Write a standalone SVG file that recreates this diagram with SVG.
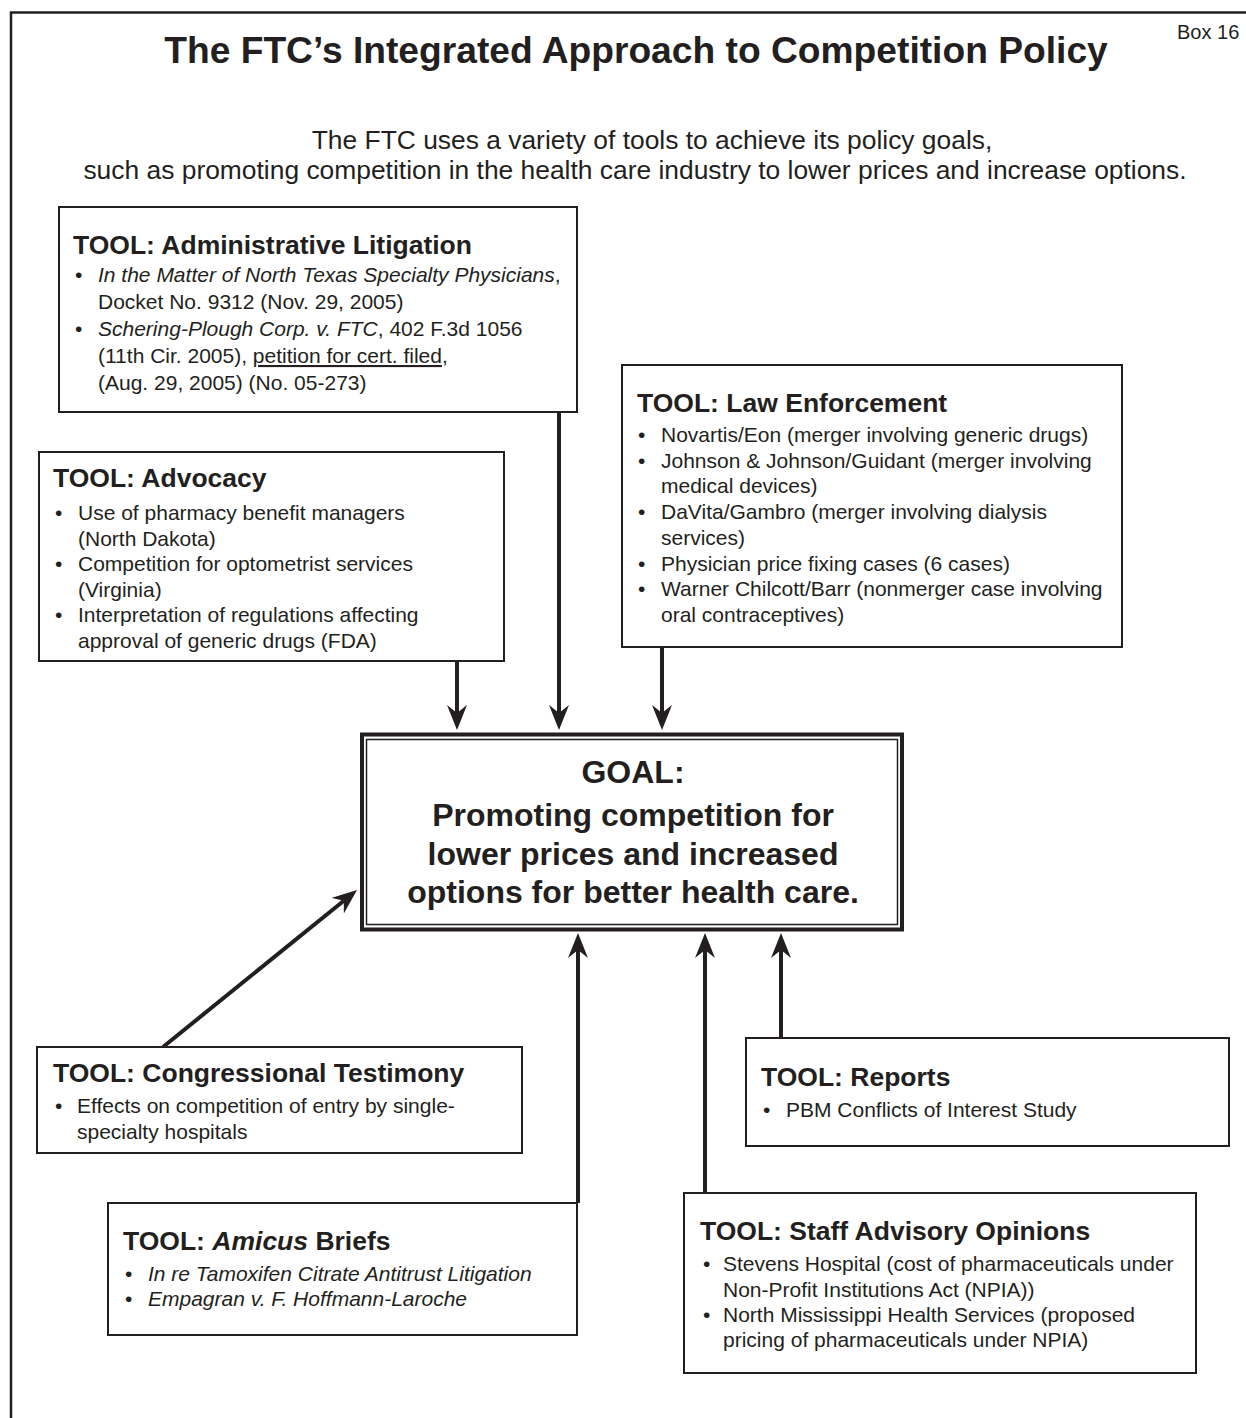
<svg xmlns="http://www.w3.org/2000/svg" width="1246" height="1418" viewBox="0 0 1246 1418">
<defs>
<style>
.t{font-family:"Liberation Sans",Arial,Helvetica,sans-serif;fill:#231f20}
.h{font-weight:bold;font-size:26.5px}
.b{font-size:21px}
.i{font-style:italic}
.box{fill:#fff;stroke:#231f20;stroke-width:2}
.arr{stroke:#231f20;stroke-width:4;fill:none;marker-end:url(#ah)}
</style>
<marker id="ah" viewBox="-25 -10 25 20" markerWidth="25" markerHeight="20" refX="-17" refY="0" orient="auto" markerUnits="userSpaceOnUse">
<path d="M0,0 L-25,-10 L-17,0 L-25,10 Z" fill="#231f20"/>
</marker>
</defs>
<rect width="1246" height="1418" fill="#fff"/>
<path d="M11,1418 V12.5 H1246" fill="none" stroke="#231f20" stroke-width="2.5"/>
<text class="t" x="1177" y="39" font-size="20">Box 16</text>
<text class="t" x="636" y="63" font-size="37.2" font-weight="bold" text-anchor="middle">The FTC’s Integrated Approach to Competition Policy</text>
<text class="t" x="652" y="149" font-size="26.4" text-anchor="middle">The FTC uses a variety of tools to achieve its policy goals,</text>
<text class="t" x="635" y="179" font-size="26.4" text-anchor="middle">such as promoting competition in the health care industry to lower prices and increase options.</text>

<g id="connectors">
<line class="arr" x1="457" y1="661" x2="457" y2="713"/>
<line class="arr" x1="559" y1="412" x2="559" y2="713"/>
<line class="arr" x1="662" y1="647" x2="662" y2="713"/>
<line class="arr" x1="163" y1="1047" x2="343.8" y2="900.7"/>
<line class="arr" x1="578" y1="1203" x2="578" y2="950"/>
<line class="arr" x1="705" y1="1193" x2="705" y2="950"/>
<line class="arr" x1="781" y1="1038" x2="781" y2="950"/>
</g>

<g id="admin">
<rect class="box" x="59" y="207" width="518" height="205"/>
<text class="t h" x="73" y="254">TOOL: Administrative Litigation</text>
<text class="t b" x="75" y="282">•</text>
<text class="t b i" x="98" y="282">In the Matter of North Texas Specialty Physicians<tspan font-style="normal">,</tspan></text>
<text class="t b" x="98" y="309">Docket No. 9312 (Nov. 29, 2005)</text>
<text class="t b" x="75" y="336">•</text>
<text class="t b" x="98" y="336"><tspan font-style="italic">Schering-Plough Corp. v. FTC</tspan>, 402 F.3d 1056</text>
<text class="t b" x="98" y="363">(11th Cir. 2005), <tspan text-decoration="underline">petition for cert. filed</tspan>,</text>
<text class="t b" x="98" y="390">(Aug. 29, 2005) (No. 05-273)</text>
</g>

<g id="advocacy">
<rect class="box" x="39" y="452" width="465" height="209"/>
<text class="t h" x="53" y="487">TOOL: Advocacy</text>
<text class="t b" x="55" y="520">•</text>
<text class="t b" x="78" y="520">Use of pharmacy benefit managers</text>
<text class="t b" x="78" y="545.5">(North Dakota)</text>
<text class="t b" x="55" y="571">•</text>
<text class="t b" x="78" y="571">Competition for optometrist services</text>
<text class="t b" x="78" y="596.5">(Virginia)</text>
<text class="t b" x="55" y="622">•</text>
<text class="t b" x="78" y="622">Interpretation of regulations affecting</text>
<text class="t b" x="78" y="647.5">approval of generic drugs (FDA)</text>
</g>

<g id="law">
<rect class="box" x="622" y="365" width="500" height="282"/>
<text class="t h" x="637" y="412">TOOL: Law Enforcement</text>
<text class="t b" x="638" y="442">•</text>
<text class="t b" x="661" y="442">Novartis/Eon (merger involving generic drugs)</text>
<text class="t b" x="638" y="467.7">•</text>
<text class="t b" x="661" y="467.7">Johnson &amp; Johnson/Guidant (merger involving</text>
<text class="t b" x="661" y="493.4">medical devices)</text>
<text class="t b" x="638" y="519.1">•</text>
<text class="t b" x="661" y="519.1">DaVita/Gambro (merger involving dialysis</text>
<text class="t b" x="661" y="544.8">services)</text>
<text class="t b" x="638" y="570.5">•</text>
<text class="t b" x="661" y="570.5">Physician price fixing cases (6 cases)</text>
<text class="t b" x="638" y="596.2">•</text>
<text class="t b" x="661" y="596.2">Warner Chilcott/Barr (nonmerger case involving</text>
<text class="t b" x="661" y="621.9">oral contraceptives)</text>
</g>

<g id="goal">
<rect x="362" y="734.5" width="540" height="195" fill="#fff" stroke="#231f20" stroke-width="4"/>
<rect x="366.5" y="739.5" width="531" height="185" fill="none" stroke="#231f20" stroke-width="1.5"/>
<g class="t" font-weight="bold" font-size="32" text-anchor="middle">
<text x="633" y="783">GOAL:</text>
<text x="633" y="826">Promoting competition for</text>
<text x="633" y="865">lower prices and increased</text>
<text x="633" y="903">options for better health care.</text>
</g>
</g>

<g id="congress">
<rect class="box" x="37" y="1047" width="485" height="106"/>
<text class="t h" x="53" y="1082">TOOL: Congressional Testimony</text>
<text class="t b" x="55" y="1113">•</text>
<text class="t b" x="77" y="1113">Effects on competition of entry by single-</text>
<text class="t b" x="77" y="1139">specialty hospitals</text>
</g>

<g id="reports">
<rect class="box" x="746" y="1038" width="483" height="108"/>
<text class="t h" x="761" y="1086">TOOL: Reports</text>
<text class="t b" x="763" y="1117">•</text>
<text class="t b" x="786" y="1117">PBM Conflicts of Interest Study</text>
</g>

<g id="amicus">
<rect class="box" x="108" y="1203" width="469" height="132"/>
<text class="t h" x="123" y="1250">TOOL: <tspan font-style="italic">Amicus</tspan> Briefs</text>
<text class="t b" x="125" y="1281">•</text>
<text class="t b i" x="148" y="1281">In re Tamoxifen Citrate Antitrust Litigation</text>
<text class="t b" x="125" y="1306">•</text>
<text class="t b i" x="148" y="1306">Empagran v. F. Hoffmann-Laroche</text>
</g>

<g id="staff">
<rect class="box" x="684" y="1193" width="512" height="180"/>
<text class="t h" x="700" y="1240">TOOL: Staff Advisory Opinions</text>
<text class="t b" x="703" y="1271">•</text>
<text class="t b" x="723" y="1271">Stevens Hospital (cost of pharmaceuticals under</text>
<text class="t b" x="723" y="1297">Non-Profit Institutions Act (NPIA))</text>
<text class="t b" x="703" y="1322">•</text>
<text class="t b" x="723" y="1322">North Mississippi Health Services (proposed</text>
<text class="t b" x="723" y="1347">pricing of pharmaceuticals under NPIA)</text>
</g>
</svg>
